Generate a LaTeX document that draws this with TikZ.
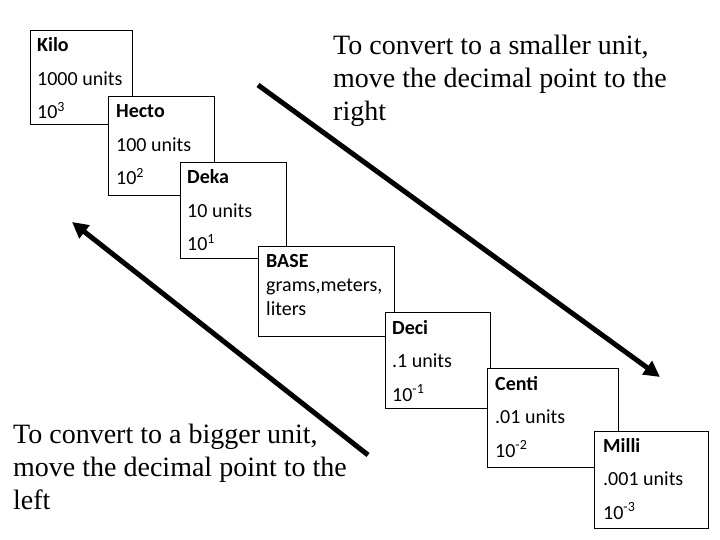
\documentclass[tikz,border=0pt]{standalone}
\usepackage{fontspec}
\setmainfont{Liberation Serif}
\newfontfamily\boxfont{Carlito}
\usetikzlibrary{arrows.meta,positioning}

\begin{document}
\begin{tikzpicture}[x=1pt, y=-1pt,
  unit/.style={draw, fill=white, anchor=north west, inner sep=0pt, line width=0.8pt},
  unittxt/.style={anchor=base west, align=left, inner sep=0pt, font=\boxfont\fontsize{20}{33.5}\selectfont},
  note/.style={anchor=base west, align=left, inner sep=0pt, font=\fontsize{28}{33}\selectfont},
  bigarr/.style={-{Triangle[length=16pt,width=16pt]}, line width=5pt}
]
  \useasboundingbox (0,0) rectangle (720,540);

  % Unit boxes, largest to smallest (text placed by its last baseline)
  \node[unit, minimum width=102pt, minimum height=94pt] (kilo) at (30,30) {};
  \node[unittxt] (kilotxt) at ([shift={(7,89)}]kilo.north west) {\textbf{Kilo}\\1000 units\\10\textsuperscript{3}};

  \node[unit, minimum width=106pt, minimum height=99pt] (hecto) at (108,96) {};
  \node[unittxt] (hectotxt) at ([shift={(8,89)}]hecto.north west) {\textbf{Hecto}\\100 units\\10\textsuperscript{2}};

  \node[unit, minimum width=106pt, minimum height=96pt] (deka) at (180,162) {};
  \node[unittxt] (dekatxt) at ([shift={(7,89)}]deka.north west) {\textbf{Deka}\\10 units\\10\textsuperscript{1}};

  \node[unit, minimum width=136pt, minimum height=90pt] (base) at (258,246) {};
  \node[unittxt, font=\boxfont\fontsize{20}{24}\selectfont] (basetxt) at ([shift={(8,69)}]base.north west) {\textbf{BASE}\\grams,meters,\\liters};

  \node[unit, minimum width=105pt, minimum height=96pt] (deci) at (385,312) {};
  \node[unittxt] (decitxt) at ([shift={(7,89)}]deci.north west) {\textbf{Deci}\\.1 units\\10\textsuperscript{-1}};

  \node[unit, minimum width=131pt, minimum height=99pt] (centi) at (487,368) {};
  \node[unittxt] (centitxt) at ([shift={(8,89)}]centi.north west) {\textbf{Centi}\\.01 units\\10\textsuperscript{-2}};

  \node[unit, minimum width=114pt, minimum height=97pt] (milli) at (594,431) {};
  \node[unittxt] (millitxt) at ([shift={(9,88)}]milli.north west) {\textbf{Milli}\\.001 units\\10\textsuperscript{-3}};

  % Notes
  \node[note] (smallnote) at (333,121) {To convert to a smaller unit,\\move the decimal point to the\\right};
  \node[note] (bignote) at (13,509) {To convert to a bigger unit,\\move the decimal point to the\\left};

  % Arrows
  \coordinate (smallfrom) at (258,85);
  \coordinate (smallto) at (660,377);
  \coordinate (bigfrom) at (368,455);
  \coordinate (bigto) at (72,222);
  \draw[bigarr] (smallfrom) -- (smallto);
  \draw[bigarr] (bigfrom) -- (bigto);
\end{tikzpicture}
\end{document}
